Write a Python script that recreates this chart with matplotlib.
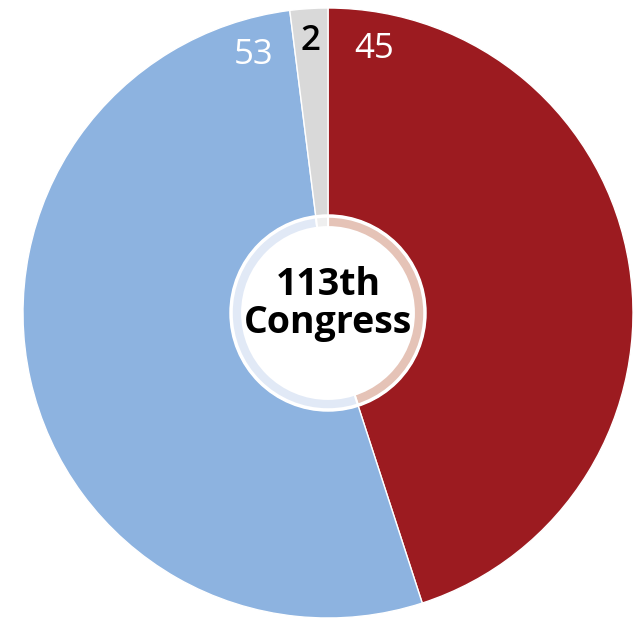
import matplotlib
matplotlib.use("Agg")
import matplotlib.pyplot as plt
import numpy as np

parties = ["Republican", "Democrat", "Independent"]
seats = [45, 53, 2]
colors = ["#9C1B20", "#8DB3E0", "#D9D9D9"]
ring_colors = ["#E5C3B7", "#E1E9F6", "#EFEFEF"]
label_colors = ["white", "white", "black"]
center_text = "113th\nCongress"

fig = plt.figure(figsize=(6.34, 6.20), dpi=100)
ax = fig.add_axes([23/634, 2/620, 610/634, 610/620])

ax.pie(seats, colors=colors, startangle=90, counterclock=False, radius=1.0,
       wedgeprops=dict(edgecolor="white", linewidth=1.0))
ax.pie(seats, colors=ring_colors, startangle=90, counterclock=False, radius=0.318,
       wedgeprops=dict(edgecolor="white", linewidth=1.5))
ax.add_patch(plt.Circle((0, 0), 0.318, fill=False, edgecolor="white", linewidth=2.5, zorder=5))
ax.add_patch(plt.Circle((0, 0), 0.285, facecolor="white", edgecolor="none", zorder=6))

# labels placed near the top edge of each wedge
total = sum(seats)
cum = np.cumsum([0] + seats)
offsets_deg = [10, -9, 0]  # angular offset from the wedge's top boundary
for i, (v, c) in enumerate(zip(seats, label_colors)):
    start = 90 - 360 * cum[i] / total
    end = 90 - 360 * cum[i + 1] / total
    if i == 0:
        ang = start - offsets_deg[i]
    elif i == 1:
        ang = end + 360 - offsets_deg[i]
    else:
        ang = (start + end) / 2
    r = 0.88 if i != 2 else 0.895
    ax.text(r * np.cos(np.radians(ang)), r * np.sin(np.radians(ang)), str(v),
            ha="center", va="center", color=c, fontsize=25,
            fontweight="semibold" if i == 2 else "normal",
            family="Open Sans", zorder=7)

ax.text(0, 0.03, center_text, ha="center", va="center", fontsize=27,
        fontweight="bold", family="Open Sans", linespacing=1.0, zorder=7)

ax.set_xlim(-1, 1)
ax.set_ylim(-1, 1)
ax.set_aspect("equal")
ax.axis("off")

fig.savefig("out.png", dpi=100)
